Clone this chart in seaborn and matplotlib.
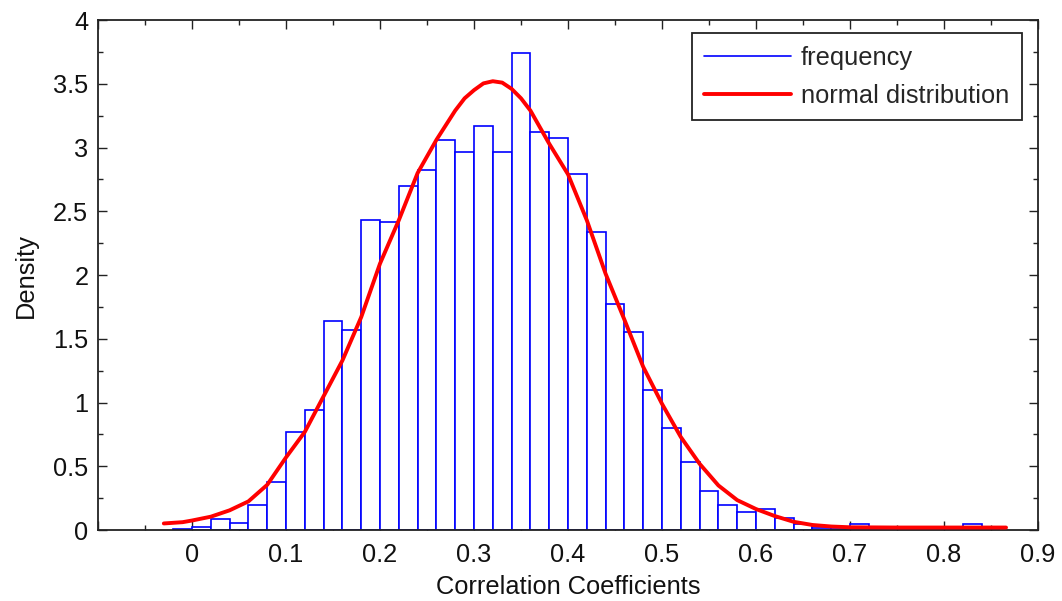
import numpy as np
import pandas as pd
import matplotlib
matplotlib.use("Agg")
import matplotlib.pyplot as plt
from matplotlib.lines import Line2D
from matplotlib.ticker import MultipleLocator, FuncFormatter
import seaborn as sns

# Histogram of correlation coefficients: bin edges (width 0.02) and density per bin
bin_edges = [round(-0.02 + 0.02 * i, 2) for i in range(45)]
density = [
    0.008, 0.026, 0.088, 0.058, 0.200, 0.377, 0.766, 0.941, 1.642, 1.569,
    2.431, 2.418, 2.698, 2.824, 3.056, 2.962, 3.169, 2.962, 3.739, 3.122,
    3.077, 2.792, 2.340, 1.773, 1.550, 1.098, 0.800, 0.531, 0.308, 0.200,
    0.141, 0.169, 0.092, 0.046, 0.018, 0.008, 0.044, 0.0, 0.0, 0.0,
    0.0, 0.0, 0.044, 0.0,
]

# Fitted distribution curve
curve_x = [-0.03, -0.01, 0.00, 0.02, 0.04, 0.06, 0.08, 0.10, 0.12, 0.14,
           0.16, 0.18, 0.20, 0.22, 0.24, 0.26, 0.28, 0.29, 0.30, 0.31,
           0.32, 0.33, 0.34, 0.35, 0.36, 0.38, 0.40, 0.42, 0.44, 0.46,
           0.48, 0.50, 0.52, 0.54, 0.56, 0.58, 0.60, 0.62, 0.64, 0.66,
           0.68, 0.70, 0.75, 0.80, 0.866]
curve_y = [0.052, 0.062, 0.075, 0.105, 0.155, 0.225, 0.355, 0.570, 0.770, 1.050,
           1.330, 1.670, 2.090, 2.430, 2.800, 3.060, 3.290, 3.386, 3.450, 3.503,
           3.520, 3.509, 3.460, 3.386, 3.290, 3.030, 2.790, 2.430, 2.010, 1.650,
           1.280, 0.990, 0.730, 0.520, 0.350, 0.235, 0.165, 0.110, 0.065, 0.040,
           0.028, 0.022, 0.020, 0.020, 0.020]

bin_centers = [(a + b) / 2 for a, b in zip(bin_edges[:-1], bin_edges[1:])]
hist_df = pd.DataFrame({"r": bin_centers, "d": density})
curve_df = pd.DataFrame({"x": curve_x, "y": curve_y})

sns.set_style("ticks")
plt.rcParams["font.family"] = ["Liberation Sans", "DejaVu Sans"]
plt.rcParams["axes.edgecolor"] = "#222222"
plt.rcParams["axes.linewidth"] = 1.3

FS = 18.3

fig = plt.figure(figsize=(10.62, 6.01), dpi=100)
ax = fig.add_axes([0.0923, 0.118, 0.8851, 0.8487])

sns.histplot(data=hist_df, x="r", weights="d", bins=bin_edges, stat="count",
             facecolor="white", edgecolor="#0000ff", linewidth=1.2, alpha=1,
             ax=ax)
sns.lineplot(data=curve_df, x="x", y="y", color="#ff0000", linewidth=2.8,
             ax=ax, zorder=3)

ax.set_xlim(-0.1, 0.9)
ax.set_ylim(0, 4)
ax.set_axisbelow(True)

ax.xaxis.set_major_locator(MultipleLocator(0.1))
ax.xaxis.set_minor_locator(MultipleLocator(0.05))
ax.yaxis.set_major_locator(MultipleLocator(0.5))
ax.yaxis.set_minor_locator(MultipleLocator(0.25))

def fmt_x(v, pos):
    if v < -1e-9:
        return ""
    return f"{v:g}" if abs(v) > 1e-9 else "0"

ax.xaxis.set_major_formatter(FuncFormatter(fmt_x))
ax.yaxis.set_major_formatter(FuncFormatter(lambda v, p: f"{v:g}"))

for s in ax.spines.values():
    s.set_visible(True)
    s.set_color("#222222")
    s.set_linewidth(1.3)

ax.tick_params(which="both", direction="in", top=True, right=True,
               color="#222222", labelsize=FS, labelcolor="#111111")
ax.tick_params(which="major", length=6.5, width=1.0)
ax.tick_params(which="minor", length=3.5, width=1.0)
ax.tick_params(axis="x", which="major", pad=9)
ax.tick_params(axis="y", which="major", pad=7)

ax.set_xlabel("Correlation Coefficients", fontsize=FS, color="#111111", labelpad=6)
ax.set_ylabel("Density", fontsize=FS, color="#111111", labelpad=11)

handles = [Line2D([], [], color="#0000ff", linewidth=1.2),
           Line2D([], [], color="#ff0000", linewidth=2.8)]
leg = ax.legend(handles, ["frequency", "normal distribution"],
                loc="upper right", bbox_to_anchor=(0.983, 0.9745),
                borderaxespad=0, fontsize=FS, frameon=True, fancybox=False,
                framealpha=1, edgecolor="#222222", handlelength=3.4,
                handletextpad=0.4, labelspacing=0.55, borderpad=0.5)
leg.get_frame().set_linewidth(1.3)

fig.savefig("out.png", dpi=100)
